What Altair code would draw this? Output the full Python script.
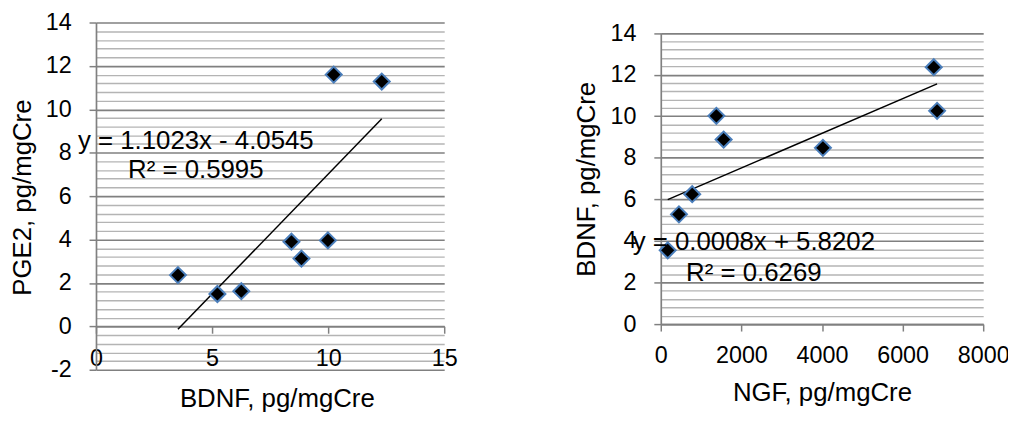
import altair as alt
import pandas as pd

# ---- data ----
bdnf_left = [3.53, 5.23, 6.26, 8.42, 8.85, 9.99, 10.24, 12.31]
pge2 = [2.36, 1.49, 1.62, 3.90, 3.12, 3.96, 11.60, 11.28]

ngf = [172, 451, 780, 1379, 1560, 4023, 6773, 6856]
bdnf_right = [3.55, 5.28, 6.25, 10.02, 8.88, 8.48, 12.36, 10.26]

left_x_ticks = [0, 5, 10, 15]
right_x_ticks = [0, 2000, 4000, 6000, 8000]
left_y_grid = [round(-2 + 0.4 * k, 1) for k in range(41)]
right_y_grid = [round(0.4 * k, 1) for k in range(36)]

eq_left = ["y = 1.1023x - 4.0545", "R² = 0.5995"]
eq_left_x = [4.3, 4.3]
eq_left_y = [8.19, 6.82]
eq_right = ["y = 0.0008x + 5.8202", "R² = 0.6269"]
eq_right_x = [2309, 2309]
eq_right_y = [3.58, 2.07]

FONT = "Liberation Sans"
MAJOR = "#808080"
MINOR = "#B4B4B4"
MAJOR_TEST = "abs(round(datum.value * 5)) % 5 == 0"

grid_color = {"condition": {"test": MAJOR_TEST, "value": MAJOR}, "value": MINOR}
grid_width = {"condition": {"test": MAJOR_TEST, "value": 1.7}, "value": 1.4}
tick_size = {"condition": {"test": MAJOR_TEST, "value": 7}, "value": 0}
label_expr = MAJOR_TEST + " ? '' + round(datum.value) : ''"
LABEL_SIZE = 23.5


def y_axis(values, title, title_x, title_y):
    return alt.Axis(
        values=values, tickCount=200, grid=True, gridColor=grid_color,
        gridWidth=grid_width,
        tickSize=tick_size, tickColor=MAJOR, tickWidth=1.5,
        domainColor=MAJOR, domainWidth=1.7,
        labelExpr=label_expr, labelFont=FONT, labelFontSize=LABEL_SIZE,
        labelColor="black", labelPadding=18, labelOverlap=False,
        labelFlush=False,
        title=title, titleFont=FONT, titleFontSize=26, titleFontWeight="normal",
        titleColor="black", titleAngle=270, titleAlign="center",
        titleBaseline="alphabetic", titleX=title_x, titleY=title_y,
    )


def x_axis(values, title, offset, pad, title_x, title_y):
    return alt.Axis(
        values=values, tickCount=200, grid=False, offset=offset, format="d",
        tickSize=7, tickColor=MAJOR, tickWidth=1.5,
        domainColor=MAJOR, domainWidth=1.7,
        labelFont=FONT, labelFontSize=LABEL_SIZE, labelColor="black",
        labelPadding=pad, labelOverlap=False, labelFlush=False,
        title=title, titleFont=FONT, titleFontSize=26, titleFontWeight="normal",
        titleColor="black", titleAlign="center", titleBaseline="alphabetic",
        titleX=title_x, titleY=title_y,
    )


def panel(xv, yv, xdom, ydom, xaxis, yaxis, eq, eqx, eqy, w, h, top=0):
    df = pd.DataFrame({"x": xv, "y": yv})
    xs = alt.Scale(domain=xdom, nice=False, zero=False)
    ys = alt.Scale(domain=ydom, nice=False, zero=False, range=[h, top])
    base = alt.Chart(df)
    trend = base.transform_regression("x", "y").mark_line(
        color="black", strokeWidth=1.5
    ).encode(
        x=alt.X("x:Q", scale=xs, axis=xaxis),
        y=alt.Y("y:Q", scale=ys, axis=yaxis),
    )
    pts = base.mark_point(
        shape="diamond", filled=True, fill="black", stroke="#4A7EBB",
        strokeWidth=2, size=260, opacity=1,
    ).encode(x=alt.X("x:Q", scale=xs), y=alt.Y("y:Q", scale=ys))
    tdf = pd.DataFrame({"t": eq, "x": eqx, "y": eqy})
    txt = alt.Chart(tdf).mark_text(
        font=FONT, fontSize=26, color="black", align="center",
        baseline="alphabetic",
    ).encode(x=alt.X("x:Q", scale=xs), y=alt.Y("y:Q", scale=ys), text="t:N")
    return alt.layer(trend, pts, txt).properties(width=w, height=h)


left = panel(
    bdnf_left, pge2, [0, 15], [-2, 14],
    x_axis(left_x_ticks, "BDNF, pg/mgCre", -43.8, 13.8, 182.3, 81.3),
    y_axis(left_y_grid, "PGE2, pg/mgCre", -65.7, 176),
    eq_left, eq_left_x, eq_left_y, 351, 350,
)
right = panel(
    ngf, bdnf_right, [0, 8000], [0, 14],
    x_axis(right_x_ticks, "NGF, pg/mgCre", 0, 12.5, 162.5, 77.3),
    y_axis(right_y_grid, "BDNF, pg/mgCre", -67, 157.5),
    eq_right, eq_right_x, eq_right_y, 325, 304, top=10.7,
)

chart = alt.hconcat(left, right, spacing=116.3).properties(
    autosize=alt.AutoSizeParams(type="none"),
    padding={"left": 88.7, "top": 13, "right": 919.3, "bottom": 394},
).configure_view(stroke=None)

chart.save("out.html", embed_options={"renderer": "svg", "actions": False})
